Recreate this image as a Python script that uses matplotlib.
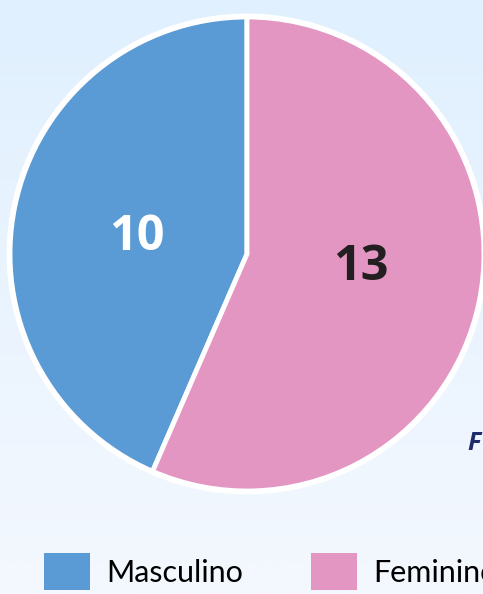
import numpy as np
import matplotlib
matplotlib.use("Agg")
import matplotlib.pyplot as plt
from matplotlib.colors import LinearSegmentedColormap

categories = ["Masculino", "Feminino"]
values = [10, 13]
colors = ["#5B9BD5", "#E396C1"]
label_colors = ["white", "#231F20"]

W, H = 483, 594
fig = plt.figure(figsize=(W / 100, H / 100), dpi=100)
ax = fig.add_axes([0, 0, 1, 1])

# background gradient
cmap = LinearSegmentedColormap.from_list("bg", ["#F4F8FE", "#E0F0FE"])
grad = np.linspace(0, 1, 256).reshape(-1, 1)
ax.imshow(grad, extent=[0, W, 0, H], origin="lower", cmap=cmap, aspect="auto", zorder=0)

cx, cy, r = 247, H - 254, 237
wedges, texts = ax.pie(values, colors=colors, startangle=90, counterclock=True,
                       center=(cx, cy), radius=r, frame=True,
                       wedgeprops=dict(edgecolor="white", linewidth=3.5))
circle = plt.Circle((cx, cy), r + 1, fill=False, edgecolor="white", linewidth=3.5, zorder=3)
ax.add_patch(circle)
ax.set_xlim(0, W)
ax.set_ylim(0, H)
ax.set_aspect("auto")
ax.axis("off")

# value labels
ax.text(137, H - 238, str(values[0]), color=label_colors[0], fontsize=35,
        fontweight="bold", family="Open Sans", ha="center", va="center", zorder=5)
ax.text(361, H - 267, str(values[1]), color=label_colors[1], fontsize=35,
        fontweight="bold", family="Open Sans", ha="center", va="center", zorder=5)

ax.text(467, H - 444, "F", color="#1F2A6B", fontsize=18, fontweight="bold",
        style="italic", family="Open Sans", ha="left", va="center", zorder=5)

leg = fig.legend(wedges, categories, ncol=2, frameon=False,
                 loc="upper left", bbox_to_anchor=(44 / W, 1 - 553 / H),
                 bbox_transform=fig.transFigure,
                 borderpad=0, borderaxespad=0,
                 handlelength=1.5, handleheight=1.5, handletextpad=0.55,
                 columnspacing=2.2,
                 prop={"family": "Lato", "size": 22})
for h in leg.legend_handles:
    h.set_edgecolor("none")

fig.savefig("out.png", dpi=100)
